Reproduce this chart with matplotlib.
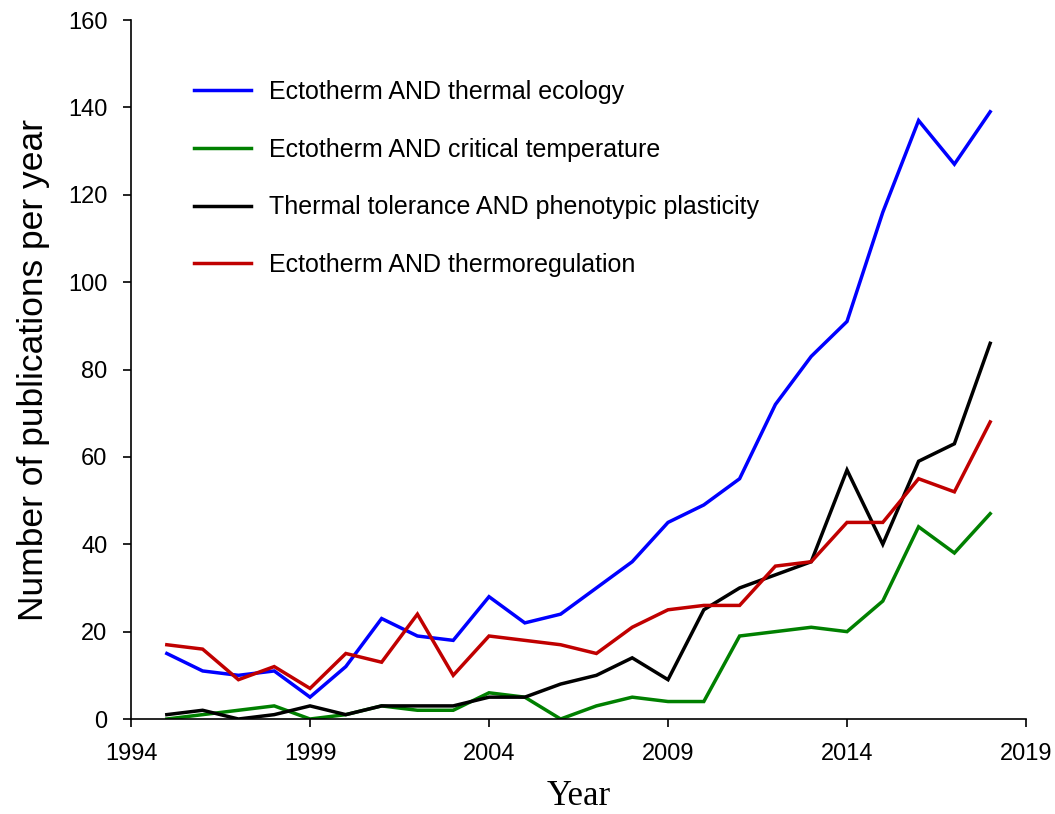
import numpy as np
import matplotlib
matplotlib.use("Agg")
import matplotlib.pyplot as plt

plt.rcParams['font.family'] = ['Liberation Sans', 'DejaVu Sans']

years = np.arange(1995, 2019)

thermal_ecology = [15, 11, 10, 11, 5, 12, 23, 19, 18, 28, 22, 24,
                   30, 36, 45, 49, 55, 72, 83, 91, 116, 137, 127, 139]
critical_temp = [0, 1, 2, 3, 0, 1, 3, 2, 2, 6, 5, 0,
                 3, 5, 4, 4, 19, 20, 21, 20, 27, 44, 38, 47]
tolerance_plasticity = [1, 2, 0, 1, 3, 1, 3, 3, 3, 5, 5, 8,
                        10, 14, 9, 25, 30, 33, 36, 57, 40, 59, 63, 86]
thermoregulation = [17, 16, 9, 12, 7, 15, 13, 24, 10, 19, 18, 17,
                    15, 21, 25, 26, 26, 35, 36, 45, 45, 55, 52, 68]

series = [
    (thermal_ecology, "Ectotherm AND thermal ecology", "#0000FF"),
    (critical_temp, "Ectotherm AND critical temperature", "#008000"),
    (tolerance_plasticity, "Thermal tolerance AND phenotypic plasticity", "#000000"),
    (thermoregulation, "Ectotherm AND thermoregulation", "#C00000"),
]

fig = plt.figure(figsize=(10.55, 8.14), dpi=100)
ax = fig.add_axes([0.1242, 0.1167, 0.8483, 0.8587])

for values, label, color in series:
    ax.plot(years, values, color=color, lw=2.5, label=label,
            solid_joinstyle='miter')

ax.set_xlim(1994, 2019)
ax.set_ylim(0, 160)
ax.set_xticks(np.arange(1994, 2020, 5))
ax.set_yticks(np.arange(0, 161, 20))
ax.spines['top'].set_visible(False)
ax.spines['right'].set_visible(False)
for s in ('left', 'bottom'):
    ax.spines[s].set_linewidth(1.2)
ax.tick_params(direction='out', length=6, width=1.2, labelsize=17, pad=11)

ax.set_ylabel("Number of publications per year", fontsize=25.5)
ax.yaxis.set_label_coords(-0.09, 0.5)
ax.set_xlabel("Year", fontsize=25, family=['Liberation Serif'])
ax.xaxis.set_label_coords(0.5, -0.087)

ax.legend(loc='upper left', bbox_to_anchor=(0.184, 0.902),
          bbox_transform=fig.transFigure, frameon=False, fontsize=18,
          handlelength=2.28, handletextpad=0.72, labelspacing=1.35,
          borderaxespad=0, borderpad=0)

fig.savefig("out.png", dpi=100)
